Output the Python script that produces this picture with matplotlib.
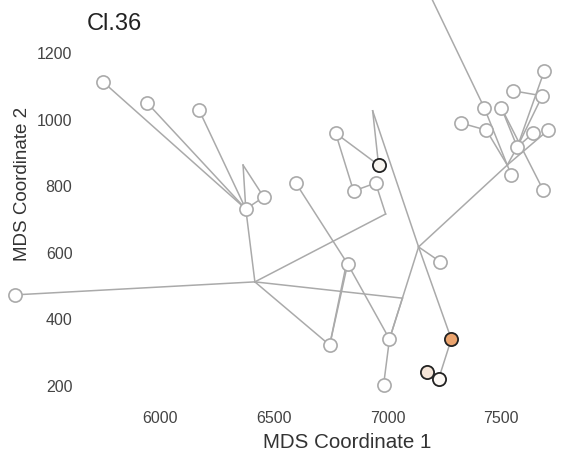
import matplotlib
matplotlib.use("Agg")
import matplotlib.pyplot as plt

plt.rcParams['font.family'] = ['Liberation Sans', 'DejaVu Sans']

# node coordinates (MDS space); internal nodes are not drawn as circles
node_names = ["L", "A", "B", "C", "D", "E", "Y", "H1", "R", "P", "P2", "Q",
              "N", "S", "I4", "I3", "V", "O", "W1", "W2", "I2", "M1", "M2",
              "M3", "K", "T", "U1", "U2", "U3", "U4", "U5", "U6", "U7", "U8",
              "U9", "U10", "U11", "U12", "H2", "Z"]
node_x = [5362, 5748, 5942, 6170, 6376, 6455, 6364, 6416, 6596, 6824, 6815, 6745,
          7008, 6982, 7065, 7136, 7232, 7280, 7171, 7224, 6991, 6947, 6850,
          6771, 6960, 6934, 7425, 7324, 7434, 7500, 7553, 7680, 7689, 7570,
          7640, 7706, 7544, 7684, 7526, 7070]
node_y = [474, 1114, 1051, 1030, 732, 768, 864, 513, 810, 567, 556, 323,
          341, 203, 464, 618, 573, 341, 242, 221, 717, 810, 786,
          960, 864, 1027, 1036, 990, 969, 1036, 1087, 1072, 1147, 918,
          960, 969, 834, 789, 864, 1540]

edges = [("H1", "L"), ("H1", "D"), ("D", "A"), ("D", "B"), ("D", "C"),
         ("D", "Y"), ("Y", "E"), ("D", "E"), ("H1", "I2"), ("I2", "M1"),
         ("M1", "M2"), ("M2", "M3"), ("M3", "K"), ("T", "K"), ("T", "I3"),
         ("I3", "O"), ("O", "W2"), ("H1", "I4"), ("I4", "N"), ("I3", "N"),
         ("N", "S"), ("H1", "Q"), ("P", "Q"), ("P2", "Q"), ("P", "N"),
         ("R", "P"), ("I3", "V"), ("I3", "H2"), ("H2", "U1"), ("U1", "Z"),
         ("H2", "U3"), ("U3", "U2"), ("U4", "U8"), ("U4", "U12"),
         ("U5", "U6"), ("U6", "U8"), ("U7", "U8"), ("U8", "H2"),
         ("U8", "U9"), ("H2", "U10"), ("H2", "U11")]

leaves = ["L", "A", "B", "C", "D", "E", "R", "P", "Q", "N", "S", "V",
          "M1", "M2", "M3", "U1", "U2", "U3", "U4", "U5", "U6", "U7",
          "U8", "U9", "U10", "U11", "U12"]
marked = ["K", "O", "W1", "W2"]
marked_colors = ["#f8f5f0", "#eba46e", "#f5e5d8", "#fdf9f5"]

pos = {n: (x, y) for n, x, y in zip(node_names, node_x, node_y)}

fig = plt.figure(figsize=(5.65, 4.61), dpi=100)
ax = fig.add_axes([78 / 565, 56 / 461, 482 / 565, 400 / 461])

for a, b in edges:
    ax.plot([pos[a][0], pos[b][0]], [pos[a][1], pos[b][1]],
            color="#aaaaaa", lw=1.1, zorder=1, clip_on=False)

ax.scatter([pos[n][0] for n in leaves], [pos[n][1] for n in leaves],
           s=90, facecolor="white", edgecolor="#aaaaaa", linewidth=1.2,
           zorder=2, clip_on=False)
for n, c in zip(marked, marked_colors):
    ax.scatter([pos[n][0]], [pos[n][1]], s=90, facecolor=c,
               edgecolor="#222222", linewidth=1.3, zorder=3, clip_on=False)

ax.set_xlim(5638, 7758)
ax.set_ylim(143, 1345)
ax.set_xticks([6000, 6500, 7000, 7500])
ax.set_yticks([200, 400, 600, 800, 1000, 1200])
ax.tick_params(length=0, pad=4, labelsize=11.5, labelcolor="#444444")
for s in ax.spines.values():
    s.set_visible(False)

ax.set_xlabel("MDS Coordinate 1", fontsize=14.8, color="#333333")
ax.set_ylabel("MDS Coordinate 2", fontsize=13.5, color="#333333")
ax.xaxis.set_label_coords((347.5 - 78) / 482, (405 - 433) / 400)
ax.yaxis.set_label_coords((31 - 78) / 482, (405 - 183.5) / 400)

fig.text(87 / 565, 1 - 23.5 / 461, "Cl.36", fontsize=17, color="#222222",
         ha="left", va="center")

fig.savefig("out.png", dpi=100)
